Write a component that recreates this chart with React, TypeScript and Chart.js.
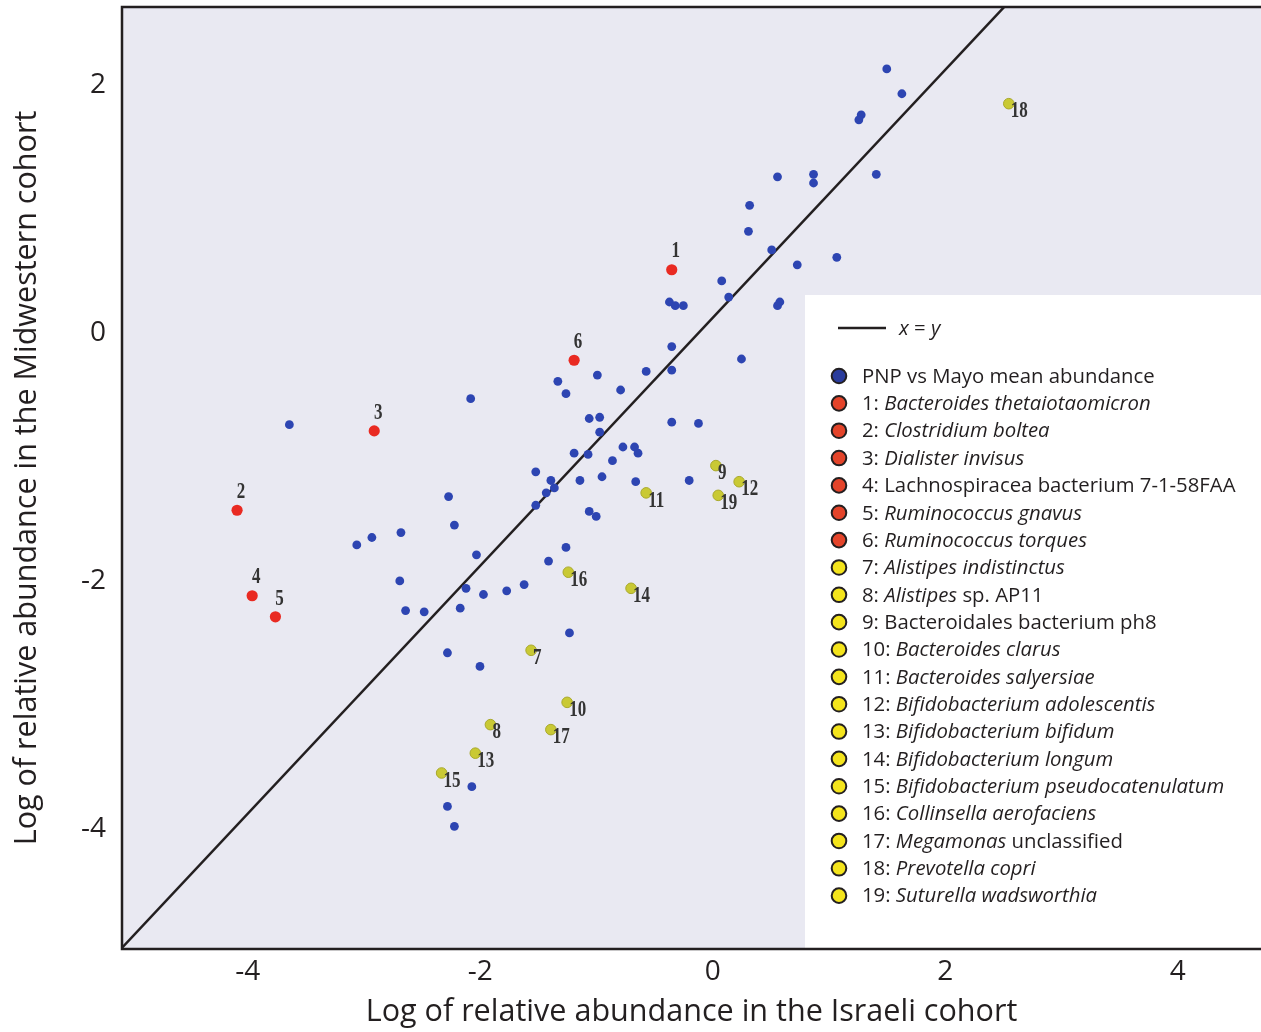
import React, { useEffect, useRef } from "react";
import { Chart, registerables } from "chart.js";

Chart.register(...registerables);

// ---------- data ----------
const pnpX = [
  -3.6, -2.04, -2.23, -2.18, -2.64, -2.89, -3.02, -1.99, -2.65, -2.08,
  -1.93, -1.73, -2.6, -2.44, -2.13, -2.24, -1.96, -2.03, -2.24, -2.18,
  -0.33, -0.28, -0.21, -0.31, -0.95, -0.53, -0.31, -1.29, -1.22, -0.75,
  -1.02, -0.93, -0.93, -0.31, -0.08, -1.15, -1.03, -0.73, -0.63, -0.6,
  -0.82, -1.48, -1.35, -1.32, -1.39, -1.1, -0.91, -0.62, -0.16, -1.48,
  -1.02, -0.96, -1.22, -1.37, -1.58, -1.19, 1.54, 1.67, 1.32, 1.3,
  0.91, 0.91, 0.6, 1.45, 0.36, 0.35, 0.55, 0.77, 1.11, 0.12,
  0.18, 0.62, 0.6, 0.29,
];
const pnpY = [
  -0.82, -0.61, -1.4, -1.63, -1.69, -1.73, -1.79, -1.87, -2.08, -2.14,
  -2.19, -2.16, -2.32, -2.33, -2.3, -2.66, -2.77, -3.74, -3.9, -4.06,
  0.17, 0.14, 0.14, -0.19, -0.42, -0.39, -0.38, -0.47, -0.57, -0.54,
  -0.77, -0.76, -0.88, -0.8, -0.81, -1.05, -1.06, -1.0, -1.0, -1.05,
  -1.11, -1.2, -1.27, -1.33, -1.37, -1.27, -1.24, -1.28, -1.27, -1.47,
  -1.52, -1.56, -1.81, -1.92, -2.11, -2.5, 2.05, 1.85, 1.68, 1.64,
  1.2, 1.13, 1.18, 1.2, 0.95, 0.74, 0.59, 0.47, 0.53, 0.34,
  0.21, 0.17, 0.14, -0.29,
];

const redIds = [1, 2, 3, 4, 5, 6];
const redX = [-0.31, -4.05, -2.87, -3.92, -3.72, -1.15];
const redY = [0.43, -1.51, -0.87, -2.2, -2.37, -0.3];

const yellowIds = [7, 8, 9, 10, 11, 12, 13, 14, 15, 16, 17, 18, 19];
const yellowX = [-1.52, -1.87, 0.07, -1.21, -0.53, 0.27, -2.0, -0.66, -2.29, -1.2, -1.35, 2.59, 0.09];
const yellowY = [-2.64, -3.24, -1.15, -3.06, -1.37, -1.28, -3.47, -2.14, -3.63, -2.01, -3.28, 1.77, -1.39];

const identityLine = [-6, 6];

const xTicks = [-4, -2, 0, 2, 4];
const yTicks = [2, 0, -2, -4];

const xTitle = "Log of relative abundance in the Israeli cohort";
const yTitle = "Log of relative abundance in the Midwestern cohort";

// legend rows: [normal prefix, italic part, normal suffix]
const legendRows: [string, string, string][] = [
  ["PNP vs Mayo mean abundance", "", ""],
  ["1: ", "Bacteroides thetaiotaomicron", ""],
  ["2: ", "Clostridium boltea", ""],
  ["3: ", "Dialister invisus", ""],
  ["4: Lachnospiracea bacterium 7-1-58FAA", "", ""],
  ["5: ", "Ruminococcus gnavus", ""],
  ["6: ", "Ruminococcus torques", ""],
  ["7: ", "Alistipes indistinctus", ""],
  ["8: ", "Alistipes", " sp. AP11"],
  ["9: Bacteroidales bacterium ph8", "", ""],
  ["10: ", "Bacteroides clarus", ""],
  ["11: ", "Bacteroides salyersiae", ""],
  ["12: ", "Bifidobacterium adolescentis", ""],
  ["13: ", "Bifidobacterium bifidum", ""],
  ["14: ", "Bifidobacterium longum", ""],
  ["15: ", "Bifidobacterium pseudocatenulatum", ""],
  ["16: ", "Collinsella aerofaciens", ""],
  ["17: ", "Megamonas", " unclassified"],
  ["18: ", "Prevotella copri", ""],
  ["19: ", "Suturella wadsworthia", ""],
];
const legendGroups = ["blue", "red", "red", "red", "red", "red", "red",
  "yellow", "yellow", "yellow", "yellow", "yellow", "yellow", "yellow",
  "yellow", "yellow", "yellow", "yellow", "yellow", "yellow"];

// ---------- styles ----------
const FONT = "'Open Sans', 'Noto Sans', sans-serif";
const INK = "#231f20";
const PLOT_BG = "#e9e9f2";
const BLUE = "#2d45b2";
const RED = "#e92a22";
const OLIVE = "#c9c934";
const LEGEND_FILL: Record<string, string> = { blue: "#2a3c9c", red: "#e4442a", yellow: "#f4e41c" };

const X_MIN = -5.04, X_MAX = 4.76, Y_MIN = -5.05, Y_MAX = 2.55;

function fitSize(text: string, target: number, style = ""): number {
  const c = document.createElement("canvas").getContext("2d")!;
  c.font = `${style} 100px ${FONT}`;
  return (100 * target) / c.measureText(text).width;
}

function zeroPadding(s: any) {
  s.paddingTop = 0;
  s.paddingBottom = 0;
  s.paddingLeft = 0;
  s.paddingRight = 0;
}

export default function App() {
  const ref = useRef<HTMLCanvasElement | null>(null);

  useEffect(() => {
    if (!ref.current) return;
    const xTitleSize = fitSize(xTitle, 652);
    const yTitleSize = fitSize(yTitle, 735);
    const legendSize = fitSize("PNP vs Mayo mean abundance", 293);

    const bgPlugin = {
      id: "plotBg",
      beforeDraw(chart: any) {
        const { ctx, chartArea: a } = chart;
        ctx.save();
        ctx.fillStyle = PLOT_BG;
        ctx.fillRect(a.left, a.top, a.right - a.left, a.bottom - a.top);
        ctx.restore();
      },
    };

    const labelPlugin = {
      id: "pointLabels",
      afterDatasetsDraw(chart: any) {
        const { ctx, scales } = chart;
        const sx = scales.x, sy = scales.y;
        ctx.save();
        ctx.fillStyle = "#333";
        ctx.font = "bold 17px 'Liberation Serif', 'DejaVu Serif', serif";
        ctx.textBaseline = "middle";
        redIds.forEach((id, i) => {
          const px = sx.getPixelForValue(redX[i]);
          const py = sy.getPixelForValue(redY[i]);
          ctx.save();
          ctx.translate(px + 4, py - 18);
          ctx.scale(1, 1.3);
          ctx.textAlign = "center";
          ctx.fillText(String(id), 0, 0);
          ctx.restore();
        });
        yellowIds.forEach((id, i) => {
          const px = sx.getPixelForValue(yellowX[i]);
          const py = sy.getPixelForValue(yellowY[i]);
          ctx.save();
          ctx.translate(px + 2, py + 8);
          ctx.scale(1, 1.3);
          ctx.textAlign = "left";
          ctx.fillText(String(id), 0, 0);
          ctx.restore();
        });
        ctx.restore();
      },
    };

    const legendPlugin = {
      id: "customLegend",
      afterDraw(chart: any) {
        const { ctx, chartArea: a } = chart;
        const boxLeft = 805, boxTop = 295;
        ctx.save();
        ctx.fillStyle = "#ffffff";
        ctx.fillRect(boxLeft, boxTop, a.right - boxLeft, a.bottom - 1 - boxTop);

        // x = y line entry
        ctx.strokeStyle = INK;
        ctx.lineWidth = 2.5;
        ctx.beginPath();
        ctx.moveTo(838, 328);
        ctx.lineTo(886, 328);
        ctx.stroke();
        ctx.fillStyle = INK;
        ctx.textBaseline = "middle";
        ctx.textAlign = "left";
        let tx = 899;
        const parts: [string, boolean][] = [["x", true], [" = ", false], ["y", true]];
        parts.forEach(([t, it]) => {
          ctx.font = `${it ? "italic " : ""}${legendSize}px ${FONT}`;
          ctx.fillText(t, tx, 329);
          tx += ctx.measureText(t).width;
        });

        const rowTop = 376, rowH = 27.35;
        legendRows.forEach((row, i) => {
          const y = rowTop + i * rowH;
          ctx.beginPath();
          ctx.arc(839, y, 7.3, 0, Math.PI * 2);
          ctx.fillStyle = LEGEND_FILL[legendGroups[i]];
          ctx.fill();
          ctx.lineWidth = 2;
          ctx.strokeStyle = INK;
          ctx.stroke();
          ctx.fillStyle = INK;
          let x = 862;
          row.forEach((seg, k) => {
            if (!seg) return;
            ctx.font = `${k === 1 ? "italic " : ""}${legendSize}px ${FONT}`;
            ctx.fillText(seg, x, y + 1);
            x += ctx.measureText(seg).width;
          });
        });

        // frame
        ctx.strokeStyle = INK;
        ctx.lineWidth = 2.5;
        ctx.beginPath();
        ctx.moveTo(a.right + 2, a.top);
        ctx.lineTo(a.left, a.top);
        ctx.lineTo(a.left, a.bottom);
        ctx.lineTo(a.right + 2, a.bottom);
        ctx.stroke();
        ctx.restore();
      },
    };

    const chart = new Chart(ref.current, {
      type: "scatter",
      data: {
        datasets: [
          {
            label: "x = y",
            data: identityLine.map((v) => ({ x: v, y: v })),
            showLine: true,
            borderColor: INK,
            borderWidth: 2.5,
            pointRadius: 0,
            clip: 0,
            order: 10,
          } as any,
          {
            label: "PNP vs Mayo mean abundance",
            data: pnpX.map((x, i) => ({ x, y: pnpY[i] })),
            backgroundColor: BLUE,
            borderColor: BLUE,
            borderWidth: 0,
            pointRadius: 4.4,
            order: 3,
          },
          {
            label: "enriched",
            data: redX.map((x, i) => ({ x, y: redY[i] })),
            backgroundColor: RED,
            borderColor: RED,
            borderWidth: 0,
            pointRadius: 5.6,
            order: 2,
          },
          {
            label: "depleted",
            data: yellowX.map((x, i) => ({ x, y: yellowY[i] })),
            backgroundColor: OLIVE,
            borderColor: "#a9a92c",
            borderWidth: 1,
            pointRadius: 5.3,
            order: 1,
          },
        ],
      },
      options: {
        animation: false,
        responsive: false,
        devicePixelRatio: 1,
        events: [],
        layout: { autoPadding: false, padding: { top: 7, right: 0, left: 0, bottom: 0 } },
        plugins: { legend: { display: false }, tooltip: { enabled: false } },
        scales: {
          x: {
            type: "linear",
            min: X_MIN,
            max: X_MAX,
            grid: { display: false, drawTicks: false },
            border: { display: false },
            afterBuildTicks: (s: any) => {
              s.ticks = xTicks.map((v) => ({ value: v }));
            },
            afterFit: (s: any) => {
              s.height = 83;
              zeroPadding(s);
            },
            ticks: {
              font: { family: FONT, size: 28 },
              color: INK,
              padding: 6,
              labelOffset: 5,
              maxRotation: 0,
              autoSkip: false,
            },
            title: {
              display: true,
              text: xTitle,
              color: INK,
              font: { family: FONT, size: xTitleSize, lineHeight: 1.2 },
              padding: { top: 0, bottom: 1 },
            },
          },
          y: {
            type: "linear",
            min: Y_MIN,
            max: Y_MAX,
            grid: { display: false, drawTicks: false },
            border: { display: false },
            afterBuildTicks: (s: any) => {
              s.ticks = yTicks.map((v) => ({ value: v }));
            },
            afterFit: (s: any) => {
              s.width = 122;
              zeroPadding(s);
            },
            ticks: {
              font: { family: FONT, size: 28 },
              color: INK,
              padding: 16,
              labelOffset: 10,
              autoSkip: false,
            },
            title: {
              display: true,
              text: yTitle,
              color: INK,
              font: { family: FONT, size: yTitleSize, lineHeight: 1.2 },
              padding: { top: 9, bottom: 0 },
            },
          },
        },
      } as any,
      plugins: [bgPlugin, labelPlugin, legendPlugin],
    });

    return () => chart.destroy();
  }, []);

  return (
    <div style={{ position: "absolute", left: 0, top: 0, width: 1261, height: 1032, background: "#fff" }}>
      <canvas ref={ref} width={1261} height={1032} style={{ display: "block" }} />
    </div>
  );
}
